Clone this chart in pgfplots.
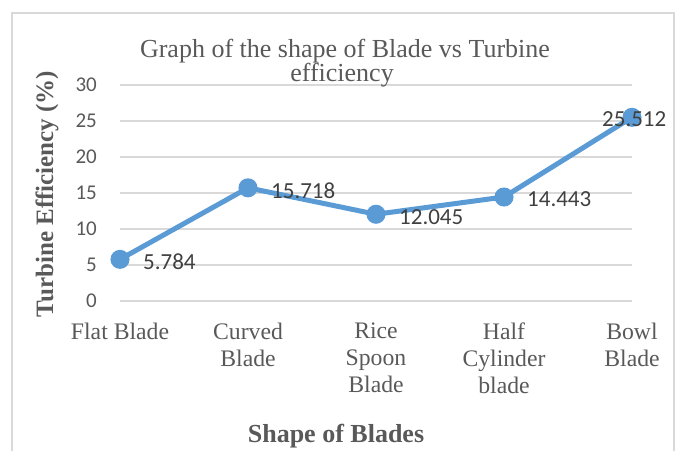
\documentclass[border=0pt]{standalone}
\usepackage{fontspec}
\setmainfont{Liberation Serif}
\newfontfamily\calibri{Carlito}
\usepackage{pgfplots}
\pgfplotsset{compat=1.18}
\definecolor{linecol}{HTML}{5B9BD5}
\definecolor{gridcol}{HTML}{D9D9D9}
\definecolor{txt}{HTML}{595959}
\definecolor{lab}{HTML}{404040}
\begin{document}
\begin{tikzpicture}[x=1bp,y=1bp]
\useasboundingbox (0,0) rectangle (681,451);
\draw[gridcol, line width=1.2bp] (12,0) -- (12,438) -- (674,438) -- (674,0);
\begin{axis}[
  at={(120bp,150bp)}, anchor=south west,
  scale only axis, width=512bp, height=216bp,
  xmin=0, xmax=4, ymin=0, ymax=30,
  clip=false,
  axis line style={draw=none},
  major tick length=0pt,
  ytick={0,5,...,30},
  ymajorgrids, grid style={color=gridcol, line width=1.3bp},
  xtick={0,1,2,3,4},
  xticklabels={Flat Blade,{Curved\\Blade},{Rice\\Spoon\\Blade},{Half\\Cylinder\\blade},{Bowl\\Blade}},
  xticklabel style={align=center, font=\fontsize{23.7bp}{27bp}\selectfont, text=txt, inner sep=0pt, yshift=-22bp},
  /pgf/number format/assume math mode=true,
  yticklabel style={font=\calibri\fontsize{21bp}{21bp}\selectfont, text=txt, inner sep=0pt, anchor=east, xshift=-23bp},
]
\addplot[color=linecol, line width=5bp, mark=*, mark size=7bp, mark options={solid, fill=linecol, draw=linecol}]
  coordinates {(0,5.784) (1,15.718) (2,12.045) (3,14.443) (4,25.512)};
\addplot[draw=none, mark=none, nodes near coords, point meta=explicit symbolic,
  nodes near coords style={anchor=west, xshift=23bp, yshift=-2.5bp, inner sep=0pt, font=\calibri\fontsize{23bp}{23bp}\selectfont, text=lab}]
  coordinates {(0,5.784)[5.784] (1,15.718)[15.718] (2,12.045)[12.045] (3,14.443)[14.443]};
\addplot[draw=none, mark=none, nodes near coords, point meta=explicit symbolic,
  nodes near coords style={anchor=west, xshift=-30bp, yshift=-2bp, inner sep=0pt, font=\calibri\fontsize{23bp}{23bp}\selectfont, text=lab}]
  coordinates {(4,25.512)[25.512]};
\end{axis}
\node[anchor=base, font=\fontsize{26bp}{26bp}\selectfont, text=txt, inner sep=0pt] at (345,393) {Graph of the shape of Blade vs Turbine};
\node[anchor=base, font=\fontsize{26bp}{26bp}\selectfont, text=txt, inner sep=0pt] at (342,369) {efficiency};
\node[rotate=90, font=\bfseries\fontsize{25bp}{25bp}\selectfont, text=txt, inner sep=0pt] at (47,257) {Turbine Efficiency (\%)};
\node[anchor=base, font=\bfseries\fontsize{26bp}{26bp}\selectfont, text=txt, inner sep=0pt] at (336,8) {Shape of Blades};
\end{tikzpicture}
\end{document}
